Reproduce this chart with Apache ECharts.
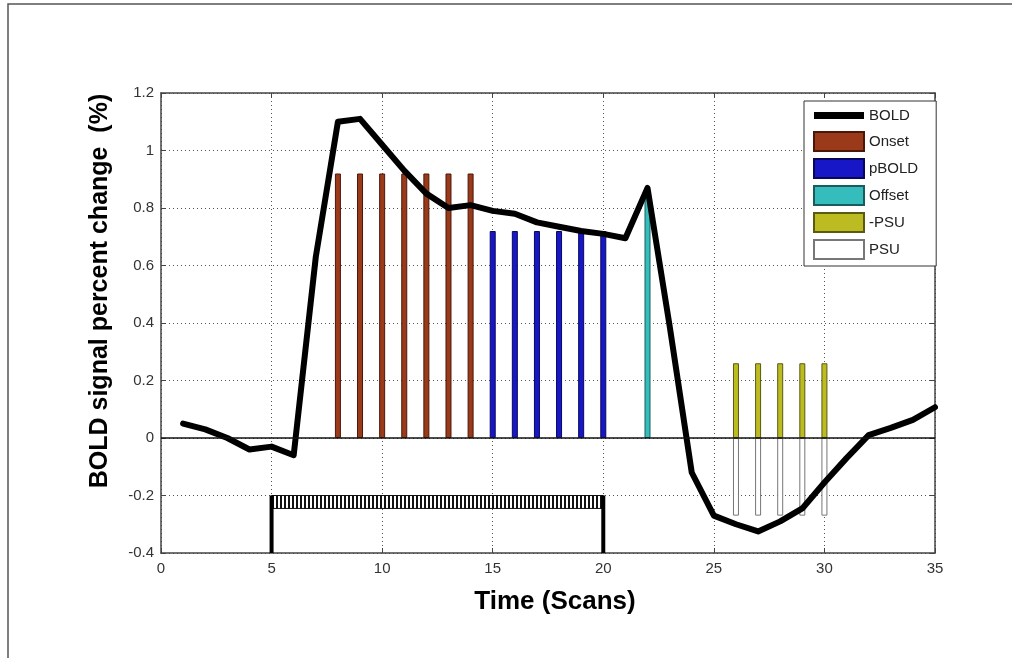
<!DOCTYPE html>
<html>
<head>
<meta charset="utf-8">
<script src="https://cdn.jsdelivr.net/npm/echarts@6/dist/echarts.min.js"></script>
<style>
  html, body { margin: 0; padding: 0; background: #fff; }
  #chart { width: 1012px; height: 658px; }
</style>
</head>
<body>
<div id="chart"></div>
<script>
// BOLD time course (percent signal change) sampled once per scan
const scans = [1, 2, 3, 4, 5, 6, 7, 8, 9, 10, 11, 12, 13, 14, 15, 16, 17, 18,
  19, 20, 21, 22, 23, 24, 25, 26, 27, 28, 29, 30, 31, 32, 33, 34, 35];
const boldValues = [0.05, 0.03, 0.0, -0.04, -0.03, -0.06, 0.63, 1.10, 1.11, 1.02,
  0.93, 0.85, 0.80, 0.81, 0.79, 0.78, 0.75, 0.735, 0.72, 0.71, 0.695, 0.87,
  0.39, -0.12, -0.27, -0.30, -0.325, -0.29, -0.245, -0.155, -0.07, 0.01,
  0.035, 0.063, 0.107];

// Response phase markers
const onsetScans = [8, 9, 10, 11, 12, 13, 14];
const onsetHeight = 0.92;
const pboldScans = [15, 16, 17, 18, 19, 20];
const pboldHeight = 0.72;
const offsetScans = [22];
const offsetHeight = 0.85;
const negPsuScans = [26, 27, 28, 29, 30];
const negPsuHeight = 0.26;
const psuScans = [26, 27, 28, 29, 30];
const psuHeight = -0.27;

// Stimulus block (scans) and its drawing band on the y scale
const stimOn = 5;
const stimOff = 20;
const stimTop = -0.2;
const stimBandBottom = -0.245;
const stimFloor = -0.4;

// Axis ranges
const xMin = 0, xMax = 35, xStep = 5;
const yMin = -0.4, yMax = 1.2, yStep = 0.2;

const seriesNames = ['BOLD', 'Onset', 'pBOLD', 'Offset', '-PSU', 'PSU'];

const tickFont = "'Liberation Sans Narrow', 'Liberation Sans', Arial, sans-serif";
const titleFont = "'Liberation Sans', Arial, sans-serif";

// vertical stripe fill for the stimulus band
const stripe = document.createElement('canvas');
stripe.width = 4; stripe.height = 4;
(function () {
  const c = stripe.getContext('2d');
  c.fillStyle = '#ffffff'; c.fillRect(0, 0, 4, 4);
  c.fillStyle = '#111111'; c.fillRect(0, 0, 2, 4);
})();

function pairs(xs, h) { return xs.map(x => [x, h]); }

function barSeries(name, xs, h, fill, border) {
  return {
    name: name, type: 'bar', xAxisIndex: 0, yAxisIndex: 0,
    data: pairs(xs, h), barWidth: 6, barGap: '-100%',
    itemStyle: { color: fill, borderColor: border, borderWidth: 1 },
    z: 2, silent: true
  };
}

const chart = echarts.init(document.getElementById('chart'), null, { renderer: 'canvas' });

const axisLine = { show: true, onZero: false, lineStyle: { color: '#444', width: 1.5 } };
const tickIn = { show: true, inside: true, length: 5, lineStyle: { color: '#444', width: 1 } };
const dotted = { show: true, lineStyle: { color: '#555', width: 1, type: [1, 3] } };

// legend swatch for the thick line: a bar through the middle of the slot
const lineIcon = 'path://M0,0L0,0M0,6L50,6L50,13L0,13ZM0,19L0,19';

const option = {
  animation: false,
  backgroundColor: '#fff',
  grid: { left: 161, right: 77, top: 93, bottom: 105 },
  xAxis: [
    {
      type: 'value', position: 'bottom', min: xMin, max: xMax, interval: xStep,
      axisLine: axisLine, axisTick: tickIn, splitLine: dotted,
      axisLabel: { margin: 8, color: '#333', fontSize: 15, fontFamily: tickFont }
    },
    {
      type: 'value', position: 'top', min: xMin, max: xMax, interval: xStep,
      axisLine: axisLine, axisTick: tickIn, splitLine: { show: false },
      axisLabel: { show: false }
    }
  ],
  yAxis: [
    {
      type: 'value', position: 'left', min: yMin, max: yMax, interval: yStep,
      axisLine: axisLine, axisTick: tickIn, splitLine: dotted,
      axisLabel: {
        margin: 7, color: '#333', fontSize: 15, fontFamily: tickFont,
        formatter: v => String(+v.toFixed(1))
      }
    },
    {
      type: 'value', position: 'right', min: yMin, max: yMax, interval: yStep,
      axisLine: axisLine, axisTick: tickIn, splitLine: { show: false },
      axisLabel: { show: false }
    }
  ],
  legend: {
    data: seriesNames.map(n => n === 'BOLD'
      ? { name: n, icon: lineIcon, itemStyle: { color: '#000', borderWidth: 0 } }
      : { name: n, icon: 'rect' }),
    orient: 'vertical', left: 804, top: 101,
    padding: [5, 18, 6, 9],
    itemWidth: 50, itemHeight: 19, itemGap: 6,
    borderColor: '#333', borderWidth: 1, backgroundColor: '#fff',
    selectedMode: false,
    textStyle: { fontSize: 15, color: '#222', fontFamily: titleFont }
  },
  series: [
    {
      name: 'BOLD', type: 'line', xAxisIndex: 0, yAxisIndex: 0,
      data: scans.map((s, i) => [s, boldValues[i]]),
      showSymbol: false, symbol: 'none',
      lineStyle: { color: '#000', width: 6, join: 'round', cap: 'round' },
      itemStyle: { color: '#000' },
      z: 4, silent: true,
      markLine: {
        silent: true, symbol: 'none', label: { show: false },
        lineStyle: { color: '#111', width: 1.5, type: 'solid' },
        data: [{ yAxis: 0 }]
      }
    },
    barSeries('Onset', onsetScans, onsetHeight, '#9b3a1a', '#4a1808'),
    barSeries('pBOLD', pboldScans, pboldHeight, '#1717c8', '#08085a'),
    barSeries('Offset', offsetScans, offsetHeight, '#35bcbc', '#1a5c5c'),
    barSeries('-PSU', negPsuScans, negPsuHeight, '#bcbc22', '#5a5a10'),
    barSeries('PSU', psuScans, psuHeight, '#ffffff', '#777777'),
    {
      name: 'stimulus', type: 'custom', xAxisIndex: 0, yAxisIndex: 0,
      data: [[stimOn, stimOff]],
      silent: true, z: 3,
      renderItem: function (params, api) {
        const on = api.value(0), off = api.value(1);
        const a = api.coord([on, stimTop]);
        const b = api.coord([off, stimBandBottom]);
        const f0 = api.coord([on, stimFloor]);
        const f1 = api.coord([off, stimFloor]);
        return {
          type: 'group',
          children: [
            {
              type: 'rect',
              shape: { x: a[0], y: a[1], width: b[0] - a[0], height: b[1] - a[1] },
              style: { fill: { image: stripe, repeat: 'repeat' }, stroke: '#111', lineWidth: 1 }
            },
            {
              type: 'line',
              shape: { x1: a[0], y1: a[1], x2: f0[0], y2: f0[1] },
              style: { stroke: '#000', lineWidth: 4 }
            },
            {
              type: 'line',
              shape: { x1: b[0], y1: a[1], x2: f1[0], y2: f1[1] },
              style: { stroke: '#000', lineWidth: 4 }
            }
          ]
        };
      }
    }
  ],
  graphic: [
    {
      type: 'polyline', silent: true,
      shape: { points: [[8, 658], [8, 4], [1012, 4]] },
      style: { stroke: '#555', lineWidth: 1.5, fill: null }
    },
    {
      type: 'text', silent: true,
      x: 555, y: 602,
      style: {
        text: 'Time (Scans)', x: 0, y: 0, align: 'center', verticalAlign: 'middle',
        font: "bold 26px 'Liberation Sans', Arial, sans-serif", fill: '#000'
      }
    },
    {
      type: 'text', silent: true,
      x: 100, y: 291, rotation: Math.PI / 2,
      style: {
        text: 'BOLD signal percent change  (%)', x: 0, y: 0,
        align: 'center', verticalAlign: 'middle',
        font: "bold 25px 'Liberation Sans', Arial, sans-serif", fill: '#000'
      }
    }
  ]
};

chart.setOption(option);
</script>
</body>
</html>
